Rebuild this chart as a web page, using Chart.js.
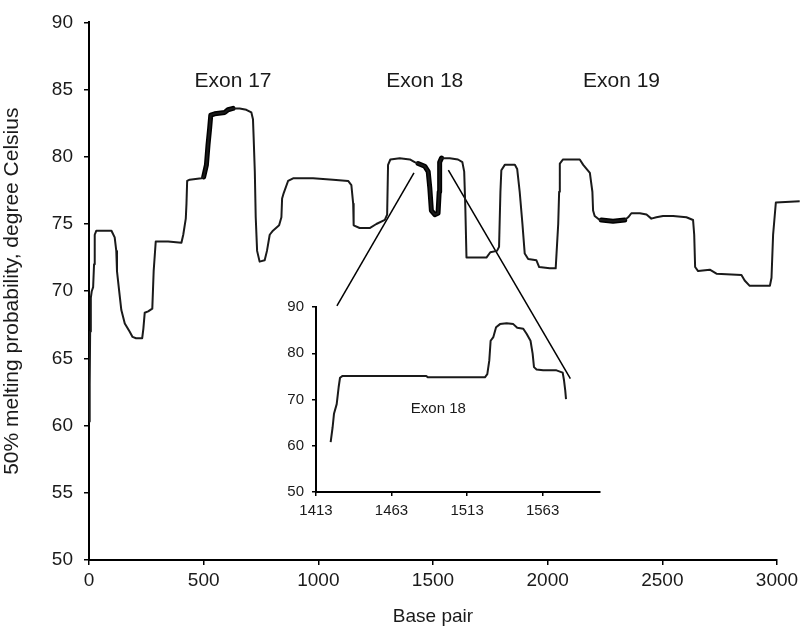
<!DOCTYPE html>
<html>
<head>
<meta charset="utf-8">
<title>Melting profile</title>
<script src="https://cdn.jsdelivr.net/npm/chart.js@4/dist/chart.umd.min.js"></script>
<style>
  html, body { margin: 0; padding: 0; background: #fff; }
  #wrap { position: relative; width: 806px; height: 636px; }
  #mainChart { position: absolute; left: 0; top: 0; }
  #insetChart { position: absolute; left: 270px; top: 290px; }
</style>
</head>
<body>
<div id="wrap">
  <canvas id="mainChart" width="806" height="636"></canvas>
  <canvas id="insetChart" width="340" height="240"></canvas>
</div>
<script>
// main melting curve (base pair -> 50% melting temperature)
const bp = [
  0, 3, 5, 8, 12, 18, 22, 25, 32, 98, 112, 119, 122, 131, 141, 156, 177, 190, 205, 232,
  237, 243, 258, 276, 282, 291, 345, 403, 411, 422, 425, 428, 439, 490, 500, 512, 519, 526, 531, 548,
  592, 606, 628, 657, 686, 708, 715, 718, 723, 727, 733, 744, 766, 776, 788, 802, 829, 839, 842, 849,
  868, 890, 977, 1064, 1130, 1144, 1152, 1154, 1180, 1224, 1253, 1290, 1300, 1304, 1314, 1355, 1399, 1420, 1435, 1464,
  1479, 1486, 1493, 1508, 1522, 1527, 1529, 1537, 1573, 1609, 1628, 1636, 1641, 1646, 1675, 1733, 1750, 1779, 1788, 1794,
  1798, 1813, 1857, 1867, 1878, 1890, 1900, 1915, 1951, 1963, 2009, 2035, 2046, 2050, 2053, 2067, 2140, 2155, 2184, 2195,
  2198, 2205, 2227, 2234, 2285, 2336, 2351, 2365, 2402, 2431, 2452, 2474, 2503, 2547, 2605, 2634, 2639, 2643, 2656, 2707,
  2736, 2845, 2859, 2881, 2969, 2976, 2983, 2995, 3099
];
const tm = [
  60.3, 63, 67, 69.5, 70.0, 70.3, 72, 74.2, 74.5, 74.5, 74.0, 73.0, 71.5, 70.1, 68.6, 67.6, 67.0, 66.6, 66.5, 66.5,
  67.2, 68.4, 68.5, 68.7, 71.5, 73.7, 73.7, 73.6, 74.2, 75.4, 76.5, 78.2, 78.3, 78.4, 78.5, 79.4, 80.9, 82.1, 83.1, 83.2,
  83.3, 83.5, 83.6, 83.6, 83.5, 83.3, 82.8, 81.4, 78.9, 75.5, 73.0, 72.2, 72.3, 73.0, 74.2, 74.5, 74.9, 75.5, 76.9, 77.3,
  78.2, 78.4, 78.4, 78.3, 78.2, 77.9, 76.5, 74.9, 74.7, 74.7, 75.0, 75.3, 75.7, 79.4, 79.8, 79.9, 79.8, 79.6, 79.5, 79.3,
  78.9, 77.7, 76.0, 75.7, 75.8, 77.4, 79.6, 79.9, 79.9, 79.8, 79.6, 78.9, 76.2, 72.5, 72.5, 72.5, 72.9, 73.0, 73.3, 77.4,
  79.0, 79.4, 79.4, 79.1, 77.4, 75.0, 72.8, 72.4, 72.3, 71.8, 71.7, 71.7, 75.0, 77.4, 79.5, 79.8, 79.8, 79.4, 78.8, 77.4,
  76.0, 75.6, 75.3, 75.3, 75.2, 75.3, 75.5, 75.8, 75.8, 75.7, 75.4, 75.5, 75.6, 75.6, 75.5, 75.3, 74.2, 71.8, 71.5, 71.6,
  71.3, 71.2, 70.8, 70.4, 70.4, 71.0, 74.2, 76.6, 76.7
];
// exon stretches drawn with a heavy line
const boldRanges = [[500, 642], [1430, 1545], [2230, 2345]];

const exonNames = ['Exon 17', 'Exon 18', 'Exon 19'];
const exonBp = [628, 1464, 2322];
const exonTm = [85.6, 85.6, 85.6];

// zoom connector lines (main chart coordinates)
const connLeftBp = [1081, 1417];
const connLeftTm = [68.9, 78.8];
const connRightBp = [1567, 2099];
const connRightTm = [79.0, 63.5];

// inset: exon 18 close-up
const insetBp = [
  1422.7, 1424, 1424.9, 1426.7, 1428, 1428.9, 1430.6, 1486, 1487, 1524.8, 1526.4, 1527.7, 1528.6, 1530.4, 1532.2, 1534.8,
  1539.2, 1543.6, 1546.2, 1550.2, 1552.4, 1555, 1556.4, 1557.3, 1559, 1563.4, 1572.2, 1576.3, 1577.2, 1578, 1578.5
];
const insetTm = [
  60.8, 64, 66.9, 69, 72.7, 74.7, 75.1, 75.1, 74.8, 74.8, 75.5, 78.4, 82.7, 83.5, 85.6, 86.3,
  86.5, 86.3, 85.5, 85.3, 84.2, 82.7, 79.9, 77, 76.5, 76.3, 76.3, 75.8, 74.1, 71.9, 70.1
];
const insetTicks = [1413, 1463, 1513, 1563];
const insetLabel = 'Exon 18';
const insetLabelBp = 1494;
const insetLabelTm = 68;

const FONT = '"Liberation Sans", Arial, Helvetica, sans-serif';
const INK = '#1a1a1a';

const Melt = {
  init() {
    Chart.defaults.font.family = FONT;
    Chart.defaults.color = INK;
    this.drawMain();
    this.drawInset();
  },

  pts(xs, ys) {
    return xs.map((x, i) => ({ x, y: ys[i] }));
  },

  boldPts() {
    return bp.map((x, i) => {
      const inside = boldRanges.some(r => x >= r[0] && x <= r[1]);
      return { x, y: inside ? tm[i] : null };
    });
  },

  plain(v) {
    return String(v);
  },

  // text labels placed at data coordinates
  labelPlugin(names, xs, ys, size) {
    return {
      id: 'labels',
      afterDatasetsDraw(chart) {
        const { ctx, scales } = chart;
        ctx.save();
        ctx.font = `${size}px ${FONT}`;
        ctx.fillStyle = INK;
        ctx.textAlign = 'center';
        ctx.textBaseline = 'middle';
        names.forEach((t, i) => {
          ctx.fillText(t, scales.x.getPixelForValue(xs[i]), scales.y.getPixelForValue(ys[i]));
        });
        ctx.restore();
      }
    };
  },

  drawMain() {
    const ctx = document.getElementById('mainChart');
    new Chart(ctx, {
      type: 'line',
      data: {
        datasets: [
          { data: this.pts(bp, tm), borderColor: INK, borderWidth: 2, clip: false },
          { data: this.boldPts(), borderColor: '#000', borderWidth: 5, spanGaps: false, borderCapStyle: 'round' },
          { data: this.pts(connLeftBp, connLeftTm), borderColor: '#000', borderWidth: 1.5 },
          { data: this.pts(connRightBp, connRightTm), borderColor: '#000', borderWidth: 1.5 }
        ]
      },
      options: {
        responsive: false,
        animation: false,
        parsing: false,
        elements: { point: { radius: 0 }, line: { tension: 0, borderJoinStyle: 'round' } },
        layout: { padding: { left: 0, top: 16, right: 29, bottom: 8 } },
        plugins: { legend: { display: false }, tooltip: { enabled: false } },
        scales: {
          x: {
            type: 'linear', min: 0, max: 3000,
            ticks: { stepSize: 500, font: { size: 19 }, padding: 4, maxRotation: 0, callback: this.plain },
            grid: { drawOnChartArea: false, tickLength: 5, color: '#000', lineWidth: 1.5 },
            border: { color: '#000', width: 2 },
            title: { display: true, text: 'Base pair', font: { size: 19 }, padding: 0 },
            afterFit: s => { s.height = 68; }
          },
          y: {
            type: 'linear', min: 50, max: 90,
            ticks: { stepSize: 5, font: { size: 19 }, padding: 11, callback: this.plain },
            grid: { drawOnChartArea: false, tickLength: 5, color: '#000', lineWidth: 1.5 },
            border: { color: '#000', width: 2 },
            title: { display: true, text: '50% melting probability, degree Celsius', font: { size: 21 }, padding: 0 },
            afterFit: s => { s.width = 89; }
          }
        }
      },
      plugins: [this.labelPlugin(exonNames, exonBp, exonTm, 21)]
    });
  },

  drawInset() {
    const ctx = document.getElementById('insetChart');
    new Chart(ctx, {
      type: 'line',
      data: {
        datasets: [{ data: this.pts(insetBp, insetTm), borderColor: INK, borderWidth: 2 }]
      },
      options: {
        responsive: false,
        animation: false,
        parsing: false,
        elements: { point: { radius: 0 }, line: { tension: 0, borderJoinStyle: 'round' } },
        layout: { padding: { left: 0, top: 17, right: 10, bottom: 0 } },
        plugins: { legend: { display: false }, tooltip: { enabled: false } },
        scales: {
          x: {
            type: 'linear', min: 1413, max: 1601,
            afterBuildTicks: s => { s.ticks = insetTicks.map(v => ({ value: v })); },
            ticks: { font: { size: 15 }, padding: 6, maxRotation: 0, callback: this.plain },
            grid: { drawOnChartArea: false, tickLength: 4, color: '#000', lineWidth: 1.5 },
            border: { color: '#000', width: 2 },
            afterFit: s => { s.height = 38; }
          },
          y: {
            type: 'linear', min: 50, max: 90,
            ticks: { stepSize: 10, font: { size: 15 }, padding: 8, callback: this.plain },
            grid: { drawOnChartArea: false, tickLength: 4, color: '#000', lineWidth: 1.5 },
            border: { color: '#000', width: 2 },
            afterFit: s => { s.width = 46; }
          }
        }
      },
      plugins: [this.labelPlugin([insetLabel], [insetLabelBp], [insetLabelTm], 15)]
    });
  }
};

document.addEventListener('DOMContentLoaded', () => Melt.init());
</script>
</body>
</html>
